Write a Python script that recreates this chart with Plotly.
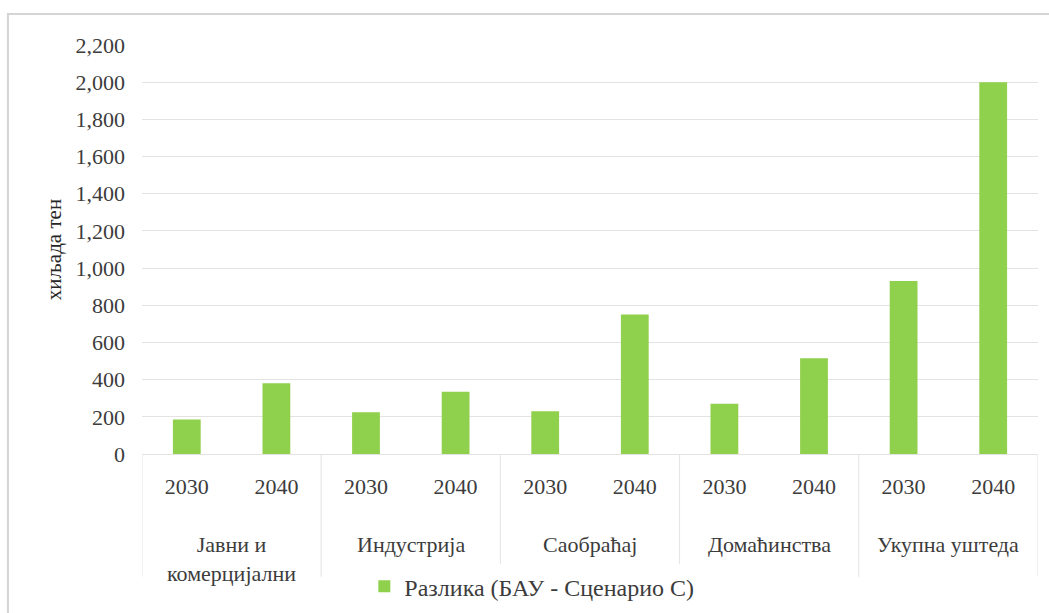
import plotly.graph_objects as go

# Sectors and years
sectors = ["Јавни и<br>комерцијални", "Индустрија", "Саобраћај", "Домаћинства", "Укупна уштеда"]
years = ["2030", "2040"]

# Savings per sector and year (thousand toe)
savings = [
    [185, 380],   # Јавни и комерцијални
    [225, 335],   # Индустрија
    [230, 750],   # Саобраћај
    [270, 515],   # Домаћинства
    [930, 2000],  # Укупна уштеда
]

series_name = "Разлика (БАУ - Сценарио С)"
y_title = "хиљада тен"
y_ticks = [0, 200, 400, 600, 800, 1000, 1200, 1400, 1600, 1800, 2000, 2200]

n_years = len(years)
n_groups = len(sectors)
y_vals = [v for row in savings for v in row]
x_pos = list(range(len(y_vals)))
x_text = [y for _ in sectors for y in years]

FONT = "Liberation Serif, Times New Roman, serif"
TXT = "#3c3c3c"
GRID = "#e3e3e3"

# Group separators below the category axis
dividers = [
    dict(
        type="line",
        xref="x",
        yref="paper",
        x0=g * n_years - 0.5,
        x1=g * n_years - 0.5,
        y0=0,
        y1=-0.3,
        line=dict(color=GRID, width=1),
    )
    for g in range(n_groups + 1)
]

frame = dict(
    type="rect",
    xref="paper",
    yref="paper",
    x0=-0.1496,
    x1=1.05,
    y0=-0.5,
    y1=1.0758,
    line=dict(color="#d4d4d4", width=2),
    fillcolor="rgba(0,0,0,0)",
    layer="below",
)

# Sector names under each pair of years
sector_labels = [
    dict(
        text=name,
        xref="x",
        yref="paper",
        x=g * n_years + (n_years - 1) / 2,
        y=-0.187,
        xanchor="center",
        yanchor="top",
        showarrow=False,
        font=dict(family=FONT, size=22, color=TXT),
    )
    for g, name in enumerate(sectors)
]

fig = go.Figure(
    go.Bar(
        x=x_pos,
        y=y_vals,
        name=series_name,
        marker=dict(color="#8fd04c", line=dict(width=0)),
        showlegend=True,
    )
)

fig.update_layout(
    width=1049,
    height=613,
    paper_bgcolor="white",
    plot_bgcolor="white",
    margin=dict(l=142, r=11, t=45, b=159, autoexpand=False),
    bargap=0.69,
    font=dict(family=FONT, size=20, color=TXT),
    showlegend=True,
    legend=dict(
        orientation="h",
        xref="container",
        yref="container",
        x=0.507,
        xanchor="center",
        y=0.043,
        yanchor="middle",
        font=dict(family=FONT, size=24, color=TXT),
        itemwidth=30,
    ),
    shapes=[frame] + dividers,
    annotations=sector_labels,
)

fig.update_yaxes(
    range=[0, 2200],
    tickvals=y_ticks,
    tickformat=",d",
    showgrid=True,
    gridcolor=GRID,
    gridwidth=1,
    zeroline=False,
    showline=False,
    ticks="",
    ticklabelstandoff=16,
    tickfont=dict(family=FONT, size=22, color=TXT),
    title=dict(text=y_title, font=dict(family=FONT, size=21, color="#262626"), standoff=8),
)

fig.update_xaxes(
    range=[-0.5, len(y_vals) - 0.5],
    tickvals=x_pos,
    ticktext=x_text,
    showgrid=False,
    zeroline=False,
    showline=True,
    linecolor=GRID,
    linewidth=1,
    ticks="",
    ticklabelstandoff=13,
    tickfont=dict(family=FONT, size=22, color=TXT),
)

fig.write_html("out.html")
